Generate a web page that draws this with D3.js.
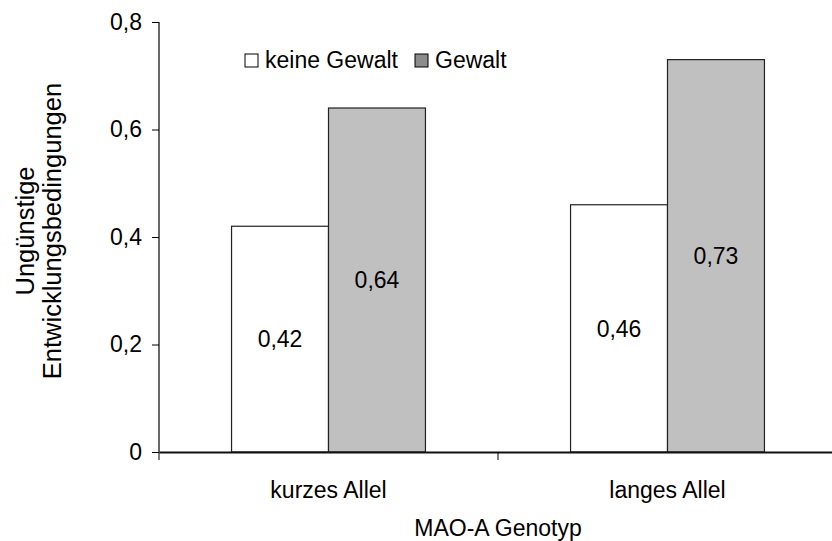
<!DOCTYPE html>
<html>
<head>
<meta charset="utf-8">
<script src="https://cdn.jsdelivr.net/npm/d3@7"></script>
<style>
body { margin: 0; background: #fff; }
text { font-family: Arial, "Liberation Sans", sans-serif; fill: #000; }
</style>
</head>
<body>
<div class="main"></div>
<script>
//data
var genotypes = ["kurzes Allel", "langes Allel"];
var groups = ["keine Gewalt", "Gewalt"];
var keineGewalt = [0.42, 0.46];
var gewalt = [0.64, 0.73];
var yTicks = [0, 0.2, 0.4, 0.6, 0.8];

//canvas config
var margin = {top: 22, right: -5, bottom: 89, left: 159};
var width = 832 - margin.left - margin.right;
var height = 541 - margin.top - margin.bottom;
var fontSize = 23;

var svg = d3.select(".main")
	.append("svg")
	.attr("width", 832)
	.attr("height", 541);
var g = svg.append("g")
	.attr("transform", "translate(" + margin.left + "," + margin.top + ")");

var xScale = d3.scaleBand()
	.domain(genotypes)
	.range([0, width]);
var xInner = d3.scaleBand()
	.domain(groups)
	.range([0, xScale.bandwidth() * 0.572])
	.paddingInner(0);
var yScale = d3.scaleLinear()
	.domain([0, 0.8])
	.range([height, 0]);

//rows for bars
var rows = [];
genotypes.forEach(function(gt, i) {
	rows.push({genotype: gt, group: groups[0], value: keineGewalt[i]});
	rows.push({genotype: gt, group: groups[1], value: gewalt[i]});
});
var fills = {"keine Gewalt": "#ffffff", "Gewalt": "#c0c0c0"};
var offset = (xScale.bandwidth() - xInner.range()[1]) / 2;

//bars
g.append("g").attr("class", "bars")
	.selectAll("rect")
	.data(rows)
	.enter()
	.append("rect")
	.attr("x", function(d) { return xScale(d.genotype) + offset + xInner(d.group) })
	.attr("y", function(d) { return yScale(d.value) })
	.attr("width", xInner.bandwidth())
	.attr("height", function(d) { return height - yScale(d.value) })
	.style("fill", function(d) { return fills[d.group] })
	.style("stroke", "#222")
	.style("stroke-width", 1.2);

//value labels in the middle of the bars
g.append("g").attr("class", "values")
	.selectAll("text")
	.data(rows)
	.enter()
	.append("text")
	.attr("x", function(d) { return xScale(d.genotype) + offset + xInner(d.group) + xInner.bandwidth() / 2 })
	.attr("y", function(d) { return (yScale(d.value) + height) / 2 })
	.attr("dy", "0.36em")
	.attr("text-anchor", "middle")
	.style("font-size", fontSize + "px")
	.text(function(d) { return d3.format(".2f")(d.value).replace(".", ",") });

//y axis
var yAxis = d3.axisLeft(yScale)
	.tickValues(yTicks)
	.tickSize(7)
	.tickPadding(10)
	.tickFormat(function(d) { return d === 0 ? "0" : d3.format(".1f")(d).replace(".", ",") });
g.append("g")
	.attr("class", "y-axis")
	.call(yAxis)
	.call(function(a) {
		a.select(".domain").attr("d", "M0,0V" + height).style("stroke", "#000").style("stroke-width", 1.2);
		a.selectAll(".tick line").style("stroke", "#000");
		a.selectAll("text").style("font-size", fontSize + "px").style("font-family", "Arial, 'Liberation Sans', sans-serif");
	});

//x axis, ticks between categories
var xAxis = d3.axisBottom(xScale).tickSize(0).tickPadding(30);
g.append("g")
	.attr("class", "x-axis")
	.attr("transform", "translate(0," + height + ")")
	.call(xAxis)
	.call(function(a) {
		a.select(".domain").style("stroke", "#111").style("stroke-width", 2);
		a.selectAll("text").style("font-size", fontSize + "px").style("font-family", "Arial, 'Liberation Sans', sans-serif");
	});
g.select(".x-axis")
	.selectAll(".sep")
	.data([0, 1, 2])
	.enter()
	.append("line")
	.attr("class", "sep")
	.attr("x1", function(d) { return d * xScale.step() })
	.attr("x2", function(d) { return d * xScale.step() })
	.attr("y1", 0)
	.attr("y2", 8)
	.style("stroke", "#000")
	.style("stroke-width", 1);

//x axis label
svg.append("text")
	.attr("x", margin.left + xScale.step())
	.attr("y", 536)
	.attr("text-anchor", "middle")
	.style("font-size", fontSize + "px")
	.text("MAO-A Genotyp");

//y axis label, two lines
var yLabel = svg.append("text")
	.attr("transform", "translate(34,231) rotate(-90)")
	.attr("text-anchor", "middle")
	.style("font-size", "25.5px");
yLabel.append("tspan").attr("x", 0).attr("y", 0).text("Ungünstige");
yLabel.append("tspan").attr("x", 0).attr("y", 27).text("Entwicklungsbedingungen");

//legend
var legendX = [245, 415];
var legendFills = ["#ffffff", "#8c8c8c"];
var legend = svg.append("g").attr("class", "legend")
	.selectAll("g")
	.data(groups)
	.enter()
	.append("g")
	.attr("transform", function(d, i) { return "translate(" + legendX[i] + ",54)" });
legend.append("rect")
	.attr("width", 13)
	.attr("height", 13)
	.style("fill", function(d, i) { return legendFills[i] })
	.style("stroke", "#000")
	.style("stroke-width", 1);
legend.append("text")
	.attr("x", 20)
	.attr("y", 14)
	.style("font-size", fontSize + "px")
	.text(function(d) { return d });
</script>
</body>
</html>
